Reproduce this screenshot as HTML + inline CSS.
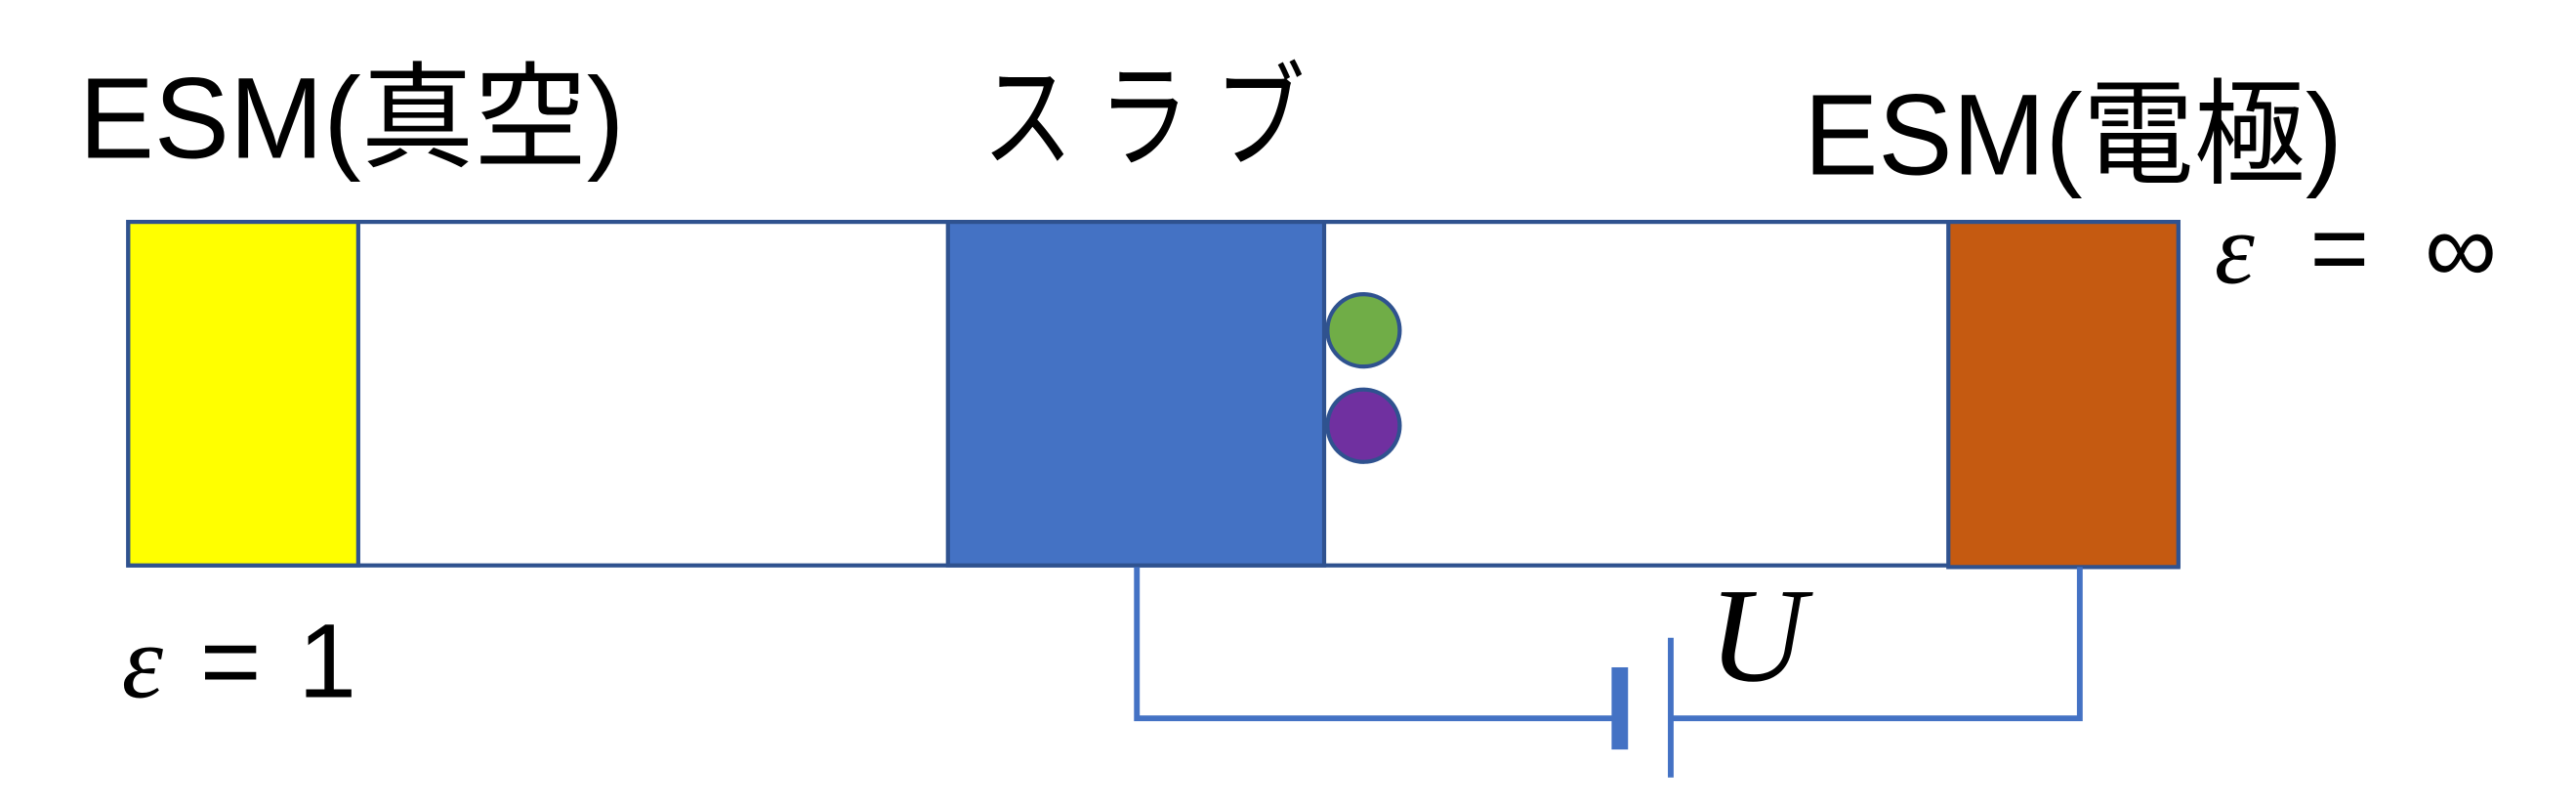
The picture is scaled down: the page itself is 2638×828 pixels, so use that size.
<!DOCTYPE html>
<html><head><meta charset="utf-8"><style>
html,body{margin:0;padding:0;background:#fff;}
svg{display:block}
text{font-family:"Liberation Sans","Noto Sans CJK JP",sans-serif;fill:#000}
.e{font-family:"Liberation Serif",serif;font-style:italic}
</style></head><body>
<svg width="2638" height="828" viewBox="0 0 1568 492.2" xmlns="http://www.w3.org/2000/svg">
<rect x="78" y="135" width="1248" height="209" fill="#fff" stroke="#2F528F" stroke-width="2.5"/>
<rect x="78" y="135" width="140" height="209" fill="#FFFF00" stroke="#2F528F" stroke-width="2.5"/>
<rect x="577" y="135" width="229" height="209" fill="#4472C4" stroke="#2F528F" stroke-width="2.5"/>
<rect x="1186" y="135" width="140" height="210" fill="#C55A11" stroke="#2F528F" stroke-width="2.5"/>
<circle cx="830" cy="201" r="22" fill="#70AD47" stroke="#2F528F" stroke-width="2.5"/>
<circle cx="830" cy="259" r="22" fill="#7030A0" stroke="#2F528F" stroke-width="2.5"/>
<polyline points="692,345 692,437 982,437" fill="none" stroke="#4472C4" stroke-width="3.5"/>
<rect x="981" y="406" width="10" height="50" fill="#4472C4"/>
<line x1="1017" y1="388" x2="1017" y2="473" stroke="#4472C4" stroke-width="3.5"/>
<polyline points="1017,437 1266,437 1266,345" fill="none" stroke="#4472C4" stroke-width="3.5"/>
<text x="48" y="96" font-size="70" textLength="332" lengthAdjust="spacingAndGlyphs">ESM(真空)</text>
<text x="598" y="96" font-size="70" textLength="212" lengthAdjust="spacingAndGlyphs" letter-spacing="20">スラブ</text>
<text x="1098" y="106" font-size="70" textLength="328" lengthAdjust="spacingAndGlyphs">ESM(電極)</text>
<text x="1348" y="172" font-size="62" textLength="172" lengthAdjust="spacing"><tspan class="e">ε</tspan> = ∞</text>
<text x="74" y="424" font-size="64" textLength="143" lengthAdjust="spacing"><tspan class="e">ε</tspan> = 1</text>
<text x="1040" y="414" font-size="82" class="e">U</text>
</svg>
</body></html>
